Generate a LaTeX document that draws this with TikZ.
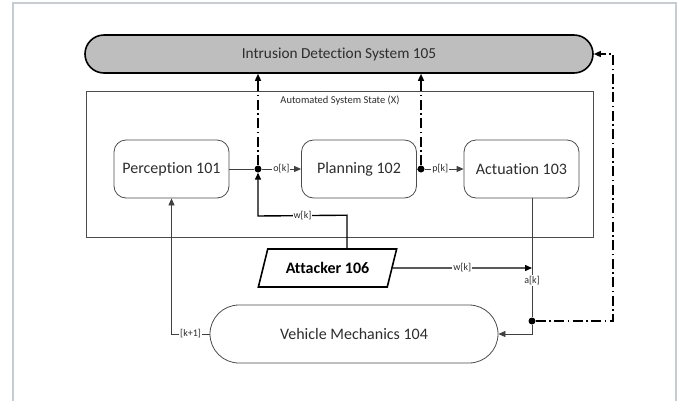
\documentclass[tikz,border=0pt]{standalone}
\usepackage{fontspec}
\setmainfont{Carlito}[Ligatures=NoCommon]
\usetikzlibrary{arrows.meta,shapes.geometric,calc}
\definecolor{framegray}{RGB}{197,205,208}
\definecolor{idsfill}{RGB}{190,190,190}
\definecolor{txt}{RGB}{45,45,45}
\tikzset{
  block/.style={draw=black!70, line width=0.8pt, rounded corners=12pt, fill=white,
    minimum width=115pt, minimum height=58pt, text=txt,
    font=\fontsize{16}{18}\selectfont},
  conn/.style={draw=black!75, line width=0.8pt},
  heavy/.style={draw=black, line width=1.4pt},
  dashdot/.style={draw=black, line width=1.4pt, dash pattern=on 10pt off 3.5pt on 1.5pt off 3.5pt},
  tip/.style={-{Triangle[length=7pt,width=6pt]}},
  lbl/.style={fill=white, inner sep=1pt, text=txt, font=\fontsize{10}{11}\selectfont},
  junction/.style={circle, fill=black, inner sep=0pt, minimum size=7pt},
}
\begin{document}
\begin{tikzpicture}[x=1pt,y=-1pt]
\clip (0,0) rectangle (678,400);
\fill[white] (0,0) rectangle (678,400);
% page frame
\draw[framegray, line width=2pt] (13,3) rectangle (676,430);

% intrusion detection system
\node[draw=black, line width=1.6pt, fill=idsfill, rounded corners=19pt,
      minimum width=508pt, minimum height=38pt, text=txt,
      font=\fontsize{15.3}{17}\selectfont] (ids) at (339,54) {Intrusion Detection System 105};

% automated system state
\draw[draw=black!70, line width=0.9pt] (86,91) rectangle (593,237);
\node[text=txt, font=\fontsize{10.5}{12}\selectfont] (state) at (340,101) {Automated System State (X)};

% processing blocks
\node[block] (perc) at (171.5,169) {Perception 101};
\node[block] (plan) at (359,169) {Planning 102};
\node[block] (act)  at (521.5,169) {Actuation 103};

% attacker
\node[draw=black, line width=1.6pt, trapezium, trapezium left angle=60, trapezium right angle=120,
      trapezium stretches=true, minimum width=139pt, minimum height=38pt, inner sep=0pt,
      text=black, font=\fontsize{16}{18}\selectfont\bfseries] (att) at (327.5,268) {Attacker 106};

% vehicle mechanics
\node[draw=black!70, line width=0.8pt, rounded corners=29pt, fill=white,
      minimum width=288pt, minimum height=58pt, text=txt,
      font=\fontsize{16}{18}\selectfont] (veh) at (354,334) {Vehicle Mechanics 104};

% junctions
\node[junction] (d1) at (258,169) {};
\node[junction] (d2) at (421,169) {};
\node[junction] (d3) at (532,321) {};
\coordinate (wc) at (258,216);
\coordinate (rx) at (613,0);
\coordinate (ak) at (532,268);

% signal flow
\draw[conn] (perc.east) -- (d1);
\draw[conn, tip] (d1) -- node[lbl] {o[k]} (plan.west);
\draw[conn] (plan.east) -- (d2);
\draw[conn, tip] (d2) -- node[lbl, pos=0.4] {p[k]} (act.west);

% monitoring links
\draw[dashdot, tip] (d1) -- (d1 |- ids.south);
\draw[dashdot, tip] (d2) -- (d2 |- ids.south);

% attacker injections
\draw[heavy, tip] ($(att.north)+(19.5,0)$) -- ($(att.north)+(19.5,-33)$) -- node[lbl] {w[k]} (wc) -- (d1);
\draw[heavy, tip] (att.east) -- node[lbl] {w[k]} (ak);

% actuation to vehicle
\draw[conn] ($(act.south)+(10.5,0)$) -- node[lbl, pos=0.69] {a[k]} (d3);
\draw[conn, tip] (d3) |- (veh.east);
\draw[dashdot, tip] (d3) -- (rx |- d3) -- (rx |- ids.east) -- (ids.east);

% feedback to perception
\draw[conn, tip] (veh.west) -| node[lbl, pos=0.25] {[k+1]} (perc.south);
\end{tikzpicture}
\end{document}
